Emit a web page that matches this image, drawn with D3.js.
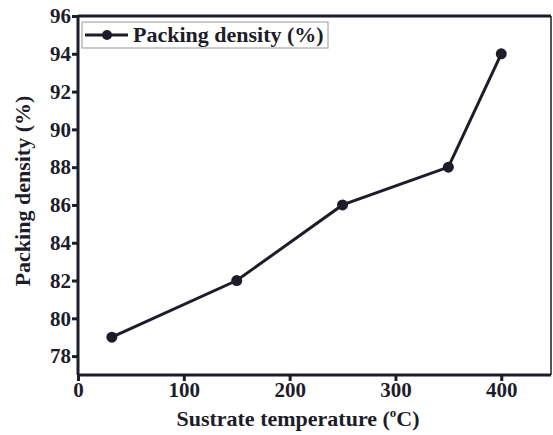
<!DOCTYPE html>
<html>
<head>
<meta charset="utf-8">
<title>Packing density</title>
<script src="https://cdnjs.cloudflare.com/ajax/libs/d3/7.8.5/d3.min.js"></script>
<style>
  html, body { margin: 0; padding: 0; background: #fff; }
  text { font-family: "Liberation Serif", "Times New Roman", serif; font-weight: bold; fill: #1d1d2a; }
</style>
</head>
<body>
<script>
// data
var temperatures = [32, 150, 250, 350, 400];
var density = [79, 82, 86, 88, 94];
var xTicks = [0, 100, 200, 300, 400];
var yTicks = [78, 80, 82, 84, 86, 88, 90, 92, 94, 96];
var seriesName = 'Packing density (%)';

var width = 553, height = 435;
var margin = {top: 16, right: 2, bottom: 60, left: 78};
var ink = '#1d1d2a';

var svg = d3.select('body').append('svg')
    .attr('width', width)
    .attr('height', height);

var x = d3.scaleLinear()
    .domain([0, 447])
    .range([margin.left, width - margin.right]);

var y = d3.scaleLinear()
    .domain([77, 96])
    .range([height - margin.bottom, margin.top]);

// frame: thick left/bottom/top, thin right
svg.append('line').attr('x1', x(447)).attr('x2', x(447))
    .attr('y1', y(96)).attr('y2', y(77))
    .attr('stroke', ink).attr('stroke-width', 1.5);
svg.append('line').attr('x1', x(0)).attr('x2', x(447))
    .attr('y1', y(96)).attr('y2', y(96))
    .attr('stroke', ink).attr('stroke-width', 3);

var xAxis = svg.append('g')
    .attr('transform', 'translate(0,' + y(77) + ')')
    .call(d3.axisBottom(x).tickValues(xTicks).tickSize(6).tickPadding(1));

var yAxis = svg.append('g')
    .attr('transform', 'translate(' + x(0) + ',0)')
    .call(d3.axisLeft(y).tickValues(yTicks).tickSize(6).tickPadding(1));

[xAxis, yAxis].forEach(function(ax) {
  ax.select('.domain').attr('stroke', ink).attr('stroke-width', 3);
  ax.selectAll('.tick line').attr('stroke', ink).attr('stroke-width', 3);
  ax.selectAll('.tick text')
    .attr('fill', ink)
    .style('font-size', '21px')
    .style('font-family', '"Liberation Serif", serif')
    .style('font-weight', 'bold');
});
xAxis.select('.domain').attr('d', 'M' + x(0) + ',0H' + x(447));
yAxis.select('.domain').attr('d', 'M0,' + y(77) + 'V' + y(96));

var points = temperatures.map(function(t, i) { return [t, density[i]]; });

svg.append('path')
    .datum(points)
    .attr('fill', 'none')
    .attr('stroke', ink)
    .attr('stroke-width', 3)
    .attr('d', d3.line().x(d => x(d[0])).y(d => y(d[1])));

svg.selectAll('.pt')
    .data(points)
    .enter().append('circle')
    .attr('class', 'pt')
    .attr('cx', d => x(d[0]))
    .attr('cy', d => y(d[1]))
    .attr('r', 5.5)
    .attr('fill', ink);

// legend
var lg = svg.append('g').attr('transform', 'translate(82,22)');
lg.append('rect')
    .attr('width', 246).attr('height', 26)
    .attr('fill', '#fff')
    .attr('stroke', '#999').attr('stroke-width', 1);
lg.append('line')
    .attr('x1', 3).attr('x2', 46).attr('y1', 13).attr('y2', 13)
    .attr('stroke', ink).attr('stroke-width', 3);
lg.append('circle').attr('cx', 25).attr('cy', 13).attr('r', 5).attr('fill', ink);
lg.append('text')
    .attr('x', 51).attr('y', 20)
    .style('font-size', '22px')
    .text(seriesName);

// axis titles
svg.append('text')
    .attr('x', 298).attr('y', 426)
    .attr('text-anchor', 'middle')
    .style('font-size', '22px')
    .html('Sustrate temperature (<tspan dy="-9" font-size="13">o</tspan><tspan dy="9">C)</tspan>');

svg.append('text')
    .attr('transform', 'translate(30,' + 191 + ') rotate(-90)')
    .attr('text-anchor', 'middle')
    .style('font-size', '22px')
    .text('Packing density (%)');
</script>
</body>
</html>
